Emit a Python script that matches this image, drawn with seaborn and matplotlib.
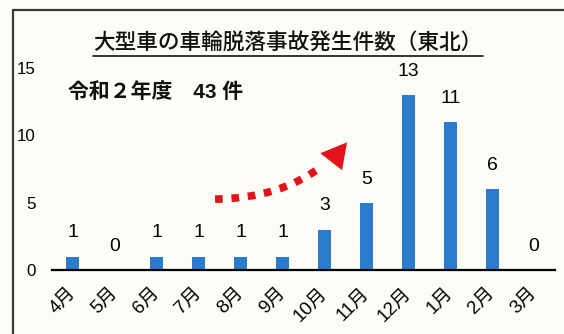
import matplotlib
matplotlib.use("Agg")
import matplotlib.pyplot as plt
from matplotlib import font_manager
from matplotlib.lines import Line2D
from matplotlib.path import Path
from matplotlib.patches import PathPatch, Polygon
import pandas as pd
import seaborn as sns

# Monthly wheel-detachment accidents of large vehicles (Tohoku), FY Reiwa 2
months = ["4月", "5月", "6月", "7月", "8月", "9月", "10月", "11月", "12月", "1月", "2月", "3月"]
counts = [1, 0, 1, 1, 1, 1, 3, 5, 13, 11, 6, 0]
y_ticks = [0, 5, 10, 15]

title = "大型車の車輪脱落事故発生件数（東北）"
subtitle = "令和２年度　43 件"

sns.set_theme(style="white")

installed = {f.name for f in font_manager.fontManager.ttflist}
num_font = "Liberation Sans Narrow" if "Liberation Sans Narrow" in installed else "Liberation Sans"
scale = 1.0 if num_font == "Liberation Sans Narrow" else 0.9
jp_font = "Noto Sans CJK JP"
plt.rcParams["font.family"] = [num_font, jp_font, "DejaVu Sans"]

bg = "#fcfcf6"
bar_color = "#2b7bcf"
arrow_color = "#e3121b"

W, H = 564, 334
fig = plt.figure(figsize=(W / 100, H / 100), dpi=100, facecolor=bg)
ax = fig.add_axes([52 / W, 64 / H, 503 / W, 202 / H])
ax.set_facecolor("none")

df = pd.DataFrame({"month": months, "count": counts})
sns.barplot(data=df, x="month", y="count", color=bar_color, saturation=1,
            width=0.31, ax=ax, edgecolor="none")

ax.set_xlim(-0.5, len(months) - 0.5)
ax.set_ylim(0, 15)
ax.set_yticks(y_ticks)
ax.set_xlabel("")
ax.set_ylabel("")

for side in ("top", "right", "left"):
    ax.spines[side].set_visible(False)
ax.spines["bottom"].set_color("black")
ax.spines["bottom"].set_linewidth(1.6)

ax.tick_params(axis="y", length=0, pad=12, labelsize=13.5 * scale, labelcolor="black")
ax.tick_params(axis="x", length=0, pad=15, labelsize=15 * scale, labelcolor="black")
for lab in ax.get_yticklabels():
    lab.set_family([num_font, jp_font])
for lab in ax.get_xticklabels():
    lab.set_family([num_font, jp_font])
    lab.set_rotation(45)
    lab.set_ha("right")
    lab.set_va("center")
    lab.set_rotation_mode("anchor")

# value labels above the bars
for i, v in enumerate(counts):
    ax.annotate(str(v), (i, v), xytext=(0, 17), textcoords="offset points",
                ha="center", va="center", fontsize=15.5 * scale,
                family=[num_font, jp_font], color="black", annotation_clip=False)

# rising-trend arrow: dotted curve plus a solid head
curve = Path([(3.39, 5.26), (4.94, 5.33), (5.94, 7.70)],
             [Path.MOVETO, Path.CURVE3, Path.CURVE3])
ax.add_patch(PathPatch(curve, fill=False, edgecolor=arrow_color, lw=5.5,
                       linestyle=(0, (1, 1.15)), capstyle="butt", zorder=3))
ax.add_patch(Polygon([(5.90, 8.67), (6.54, 9.48), (6.42, 7.41)], closed=True,
                     facecolor=arrow_color, edgecolor="none", zorder=3))

# heading with underline
t = fig.text(288 / W, 1 - 43 / H, title, ha="center", va="center",
             fontsize=15.6, fontweight="medium", family=[jp_font], color="#111111")
fig.text(68 / W, 1 - 92 / H, subtitle, ha="left", va="center",
         fontsize=15, fontweight="bold", family=[num_font, jp_font], color="#111111")

fig.canvas.draw()
bb = t.get_window_extent(fig.canvas.get_renderer())
uy = bb.y0 - 1.5
fig.add_artist(Line2D([bb.x0 / W, bb.x1 / W], [uy / H, uy / H], transform=fig.transFigure,
                      color="#111111", lw=1.2))

# panel frame (left and top edges)
frame_kw = dict(transform=fig.transFigure, color="#3a3a3a", lw=1.6)
fig.add_artist(Line2D([13 / W, 13 / W], [0, 1 - 10 / H], **frame_kw))
fig.add_artist(Line2D([13 / W, 1], [1 - 10 / H, 1 - 10 / H], **frame_kw))

fig.savefig("out.png", dpi=100, facecolor=bg)
